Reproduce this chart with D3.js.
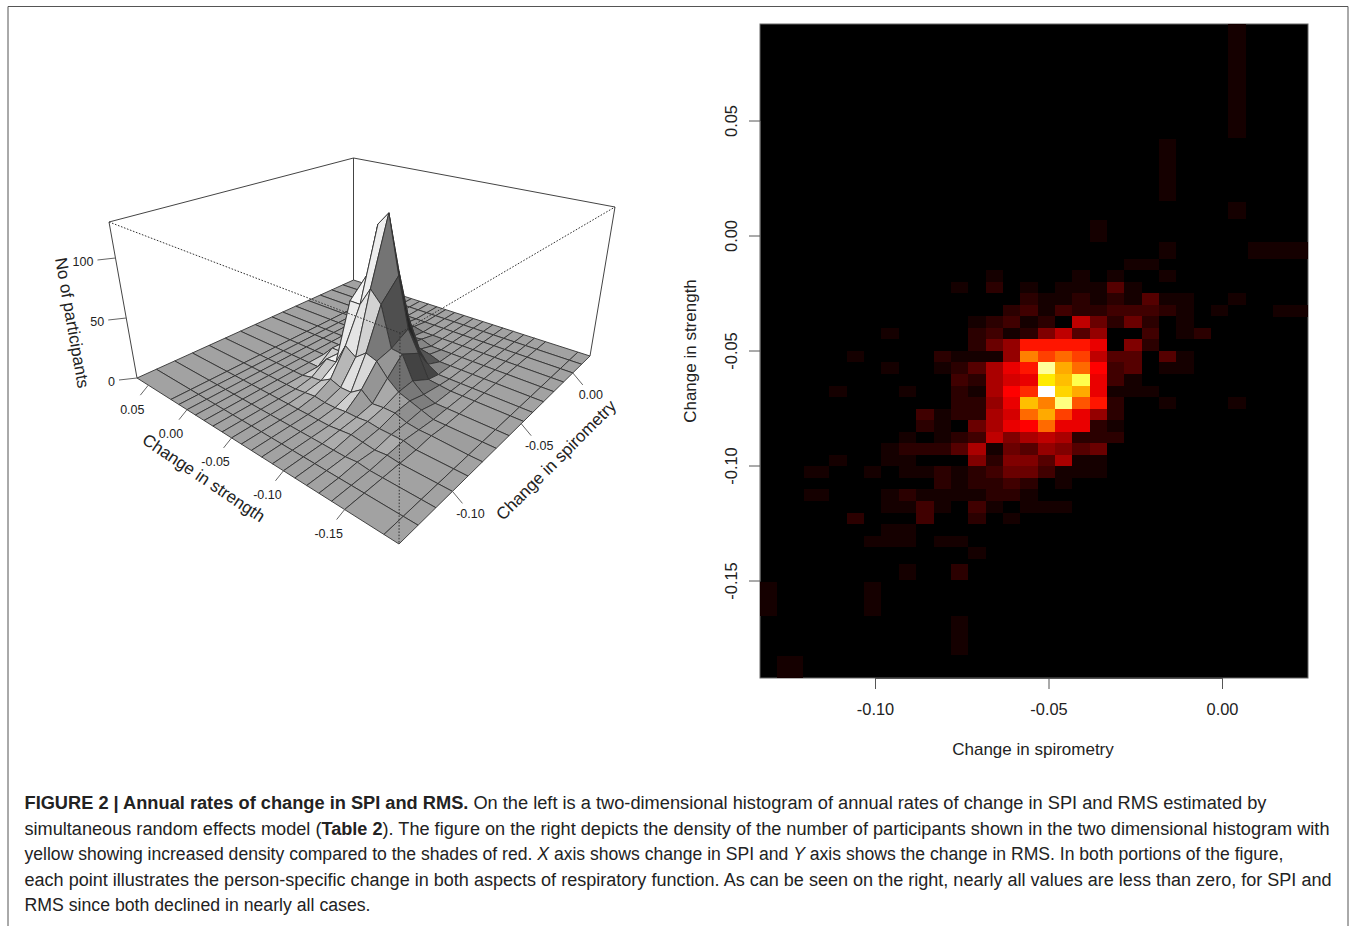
<!DOCTYPE html>
<html><head><meta charset="utf-8">
<script src="https://cdn.jsdelivr.net/npm/d3@7/dist/d3.min.js"></script>
<style>html,body{margin:0;background:#fff}svg{display:block}text{font-family:"Liberation Sans",Arial,sans-serif;fill:#222}</style>
</head><body><svg id="c" width="1356" height="926"></svg>
<script>
// ---------- heat map data (counts per 0.005 x 0.005 bin; rows run downward from heatTop)
const heatLeft=-0.13314, heatTop=-0.01, heatBinX=0.005, heatBinY=0.00502;
const heatCounts=[
[0,0,0,0,0,0,0,0,0,0,0,0,0,0,0,0,0,0,0,0,0,1,1],
[0,0,0,0,0,0,0,0,0,0,0,0,0,1,0,0,0,0,1,0,1,0,0,1],
[0,0,0,0,0,0,0,0,0,0,0,1,0,2,0,1,0,1,1,1,4,1],
[0,0,0,0,0,0,0,0,0,0,0,0,0,0,0,2,1,1,2,1,2,1,4,1,1,0,0,1],
[0,0,0,0,0,0,0,0,0,0,0,0,0,0,2,3,1,3,2,2,3,3,3,2,1,0,1],
[0,0,0,0,0,0,0,0,0,0,0,0,1,2,3,1,2,0,9,5,2,5,2,0,1],
[0,0,0,0,0,0,0,1,0,0,0,0,2,3,1,2,6,9,4,7,0,0,3,0,1,2],
[0,0,0,0,0,0,0,0,0,0,0,0,2,5,7,13,13,13,13,11,0,6,2],
[0,0,0,0,0,1,0,0,0,0,2,1,1,1,7,18,15,17,15,9,4,4,0,4,1],
[0,0,0,0,0,0,0,1,0,0,1,2,4,8,11,13,30,20,17,12,3,4,0,1,1],
[0,0,0,0,0,0,0,0,0,0,0,3,2,8,10,11,23,21,27,11,3,1],
[0,0,0,0,1,0,0,0,1,0,0,2,1,8,12,14,34,22,20,11,1,1,1],
[0,0,0,0,0,0,0,0,0,0,0,2,2,7,11,21,18,29,16,13,2,0,0,1,0,0,0,1],
[0,0,0,0,0,0,0,0,0,3,1,2,2,8,10,17,20,15,11,7,2],
[0,0,0,0,0,0,0,0,0,2,1,0,5,8,11,12,17,11,11,2,1],
[0,0,0,0,0,0,0,0,1,0,1,2,3,9,6,8,9,8,2,2,2],
[0,0,0,0,0,0,0,1,2,2,2,4,8,1,5,4,7,6,4,5],
[0,0,0,0,1,0,0,1,1,0,0,0,6,2,6,6,4,8,1,1],
[0,0,0,0,0,0,1,0,1,1,2,1,2,3,5,5,3,1,1,1],
[0,0,0,0,0,0,0,0,0,0,2,1,2,2,3,2,0,1],
[0,0,0,0,0,0,0,1,2,1,1,1,1,2,2,1],
[0,0,0,0,0,0,0,1,1,3,1,0,3,1,0,1,1,1],
[0,0,0,0,0,2,0,0,0,3,0,0,2,0,1],
[0,0,0,0,0,0,0,1,1],
[0,0,0,0,0,0,1,1,1,0,1,1],
[0,0,0,0,0,0,0,0,0,0,0,0,1]
];
// merged sparse bins: x0, x1, y0, y1, count (axis units)
const heatMerged=[
[0.00186,0.00686,0.09196,0.04252,1],
[-0.01814,-0.01314,0.04196,0.01513,1],
[0.00186,0.00686,0.0147,0.00717,1],
[-0.03814,-0.03314,0.00674,-0.0027,1],
[-0.01814,-0.01314,-0.00296,-0.01035,1],
[0.00758,0.02478,-0.00296,-0.01035,1],
[0.0147,0.02478,-0.03035,-0.03522,1],
[-0.12046,-0.11317,-0.10032,-0.10534,1],
[-0.12046,-0.11317,-0.11036,-0.11538,1],
[-0.09314,-0.08814,-0.14296,-0.14978,1],
[-0.07814,-0.07314,-0.14296,-0.14978,2],
[-0.13314,-0.12814,-0.15052,-0.16543,1],
[-0.10314,-0.09814,-0.15052,-0.16543,1],
[-0.07814,-0.07314,-0.16543,-0.18239,1],
[-0.12814,-0.12066,-0.1827,-0.19239,1]
];
const heatXTicks=[-0.10,-0.05,0.00], heatYTicks=[0.05,0.00,-0.05,-0.10,-0.15];
// ---------- 3D histogram data
const gridX=[-0.13,-0.12,-0.11,-0.10,-0.09,-0.08,-0.07,-0.06,-0.048,-0.04,-0.03,-0.02,-0.01,0,0.01,0.02];
const gridY=[0.066,0.02,0.01,0,-0.01,-0.02,-0.03,-0.04,-0.05,-0.06,-0.07,-0.08,-0.09,-0.10,-0.11,-0.12,-0.13,-0.14,-0.15,-0.178,-0.188];
const zCounts=[
[0,0,0,0,0,0,0,0,0,0,0,0,0,0,0,0],
[0,0,0,0,0,0,0,0,0,0,0,0,0,0,0,0],
[0,0,0,0,0,0,0,0,0,0,0,0,0,0,0,0],
[0,0,0,0,0,0,0,0,0,0,0,0,0,0,0,0],
[0,0,0,0,0,0,0,0,0,0,0,1,0,0,0,0],
[0,0,0,0,0,0,0,0,0,2,3,2,0,0,0,0],
[0,0,0,0,0,0,0,9,8,9,11,11,3,0,0,0],
[0,0,0,0,0,2,10,9,21,31,9,6,2,0,0,0],
[0,0,0,0,1,3,11,56,72,60,18,8,2,0,0,0],
[0,0,0,0,2,8,28,56,118,84,14,2,0,0,0,0],
[0,0,0,0,1,5,22,72,130,75,5,3,0,0,0,0],
[0,0,0,0,1,5,29,62,79,39,4,0,0,0,0,0],
[0,0,0,0,2,11,26,29,37,16,3,0,0,0,0,0],
[0,0,0,1,2,4,16,28,20,5,0,0,0,0,0,0],
[0,0,0,2,3,5,9,10,2,0,0,0,0,0,0,0],
[0,0,0,1,2,5,6,3,1,0,0,0,0,0,0,0],
[0,0,1,0,2,2,3,0,0,0,0,0,0,0,0,0],
[0,0,0,1,2,1,0,0,0,0,0,0,0,0,0,0],
[0,0,0,0,0,1,0,0,0,0,0,0,0,0,0,0],
[0,0,0,0,0,0,0,0,0,0,0,0,0,0,0,0],
[0,0,0,0,0,0,0,0,0,0,0,0,0,0,0,0]
];
const zMax=130;
const perspXTicks=[-0.10,-0.05,0.00], perspYTicks=[0.05,0.00,-0.05,-0.10,-0.15], perspZTicks=[0,50,100];
const caption=[
 [["b","FIGURE 2 | Annual rates of change in SPI and RMS."],["n"," On the left is a two-dimensional histogram of annual rates of change in SPI and RMS estimated by"]],
 [["n","simultaneous random effects model ("],["b","Table 2"],["n","). The figure on the right depicts the density of the number of participants shown in the two dimensional histogram with"]],
 [["n","yellow showing increased density compared to the shades of red. "],["i","X"],["n"," axis shows change in SPI and "],["i","Y"],["n"," axis shows the change in RMS. In both portions of the figure,"]],
 [["n","each point illustrates the person-specific change in both aspects of respiratory function. As can be seen on the right, nearly all values are less than zero, for SPI and"]],
 [["n","RMS since both declined in nearly all cases."]]
];
const captionWidths=[1242,1305,1259,1307,346];

const svg=d3.select("#c");
const fmt=d3.format(".2f");
const minus=v=>fmt(v).replace("−","-");
// frame
svg.append("path").attr("d","M8,926V6.5H1348V926").attr("fill","none").attr("stroke","#555").attr("stroke-width",1);

// ---------- heat map
const hx=d3.scaleLinear([-0.10,0],[875,1222]);
const hy=d3.scaleLinear([0.05,-0.15],[120.5,580.5]);
const plotL=760,plotR=1308,plotT=24,plotB=678;
const heatColor=d3.scaleLinear([0,12,24,34],["#000","#f00","#ff0","#fff"]).clamp(true);
svg.append("rect").attr("x",plotL).attr("y",plotT).attr("width",plotR-plotL).attr("height",plotB-plotT).attr("fill","#000").attr("stroke","#666").attr("stroke-width",1);
const cells=[];
heatCounts.forEach((row,r)=>row.forEach((v,c)=>{if(v>0)cells.push({x0:heatLeft+c*heatBinX,x1:heatLeft+(c+1)*heatBinX,y0:heatTop-r*heatBinY,y1:heatTop-(r+1)*heatBinY,v});}));
heatMerged.forEach(d=>cells.push({x0:d[0],x1:d[1],y0:d[2],y1:d[3],v:d[4]}));
svg.append("g").selectAll("rect").data(cells).join("rect")
 .attr("x",d=>hx(d.x0)).attr("y",d=>hy(d.y0)).attr("width",d=>hx(d.x1)-hx(d.x0)).attr("height",d=>hy(d.y1)-hy(d.y0))
 .attr("fill",d=>heatColor(d.v)).attr("shape-rendering","crispEdges");
const axB=svg.append("g").attr("transform",`translate(0,${plotB})`).call(d3.axisBottom(hx).tickValues(heatXTicks).tickSize(11).tickSizeOuter(0).tickPadding(14).tickFormat(minus));
const axL=svg.append("g").attr("transform",`translate(${plotL},0)`).call(d3.axisLeft(hy).tickValues(heatYTicks).tickSize(11).tickSizeOuter(0).tickFormat(minus));
[axB,axL].forEach(a=>{a.selectAll("line,path").attr("stroke","#555");a.selectAll("text").attr("font-size",16.4).attr("fill","#222").attr("font-family","Liberation Sans");});
axL.selectAll("text").attr("text-anchor","middle").attr("dy",0).attr("x",-23).attr("y",0).attr("transform","rotate(-90,-23,0)");
svg.append("text").attr("x",1033).attr("y",755).attr("text-anchor","middle").attr("font-size",17).text("Change in spirometry");
svg.append("text").attr("transform","translate(696,351) rotate(-90)").attr("text-anchor","middle").attr("font-size",17).text("Change in strength");

// ---------- 3D histogram
const xDom=[gridX[0],gridX[gridX.length-1]], yDom=[gridY[gridY.length-1],gridY[0]];
function homog(p0,p1,p2,p3){ // unit square (0,0),(1,0),(1,1),(0,1)
 const dx1=p1[0]-p2[0],dx2=p3[0]-p2[0],sx=p0[0]-p1[0]+p2[0]-p3[0];
 const dy1=p1[1]-p2[1],dy2=p3[1]-p2[1],sy=p0[1]-p1[1]+p2[1]-p3[1];
 const det=dx1*dy2-dx2*dy1;
 const g=(sx*dy2-dx2*sy)/det,h=(dx1*sy-sx*dy1)/det;
 const a=p1[0]-p0[0]+g*p1[0],b=p3[0]-p0[0]+h*p3[0],c=p0[0];
 const d=p1[1]-p0[1]+g*p1[1],e=p3[1]-p0[1]+h*p3[1],f=p0[1];
 return (u,v)=>{const w=g*u+h*v+1;return [(a*u+b*v+c)/w,(d*u+e*v+f)/w];};
}
const floorH=homog([399,544],[590,356],[353.5,280],[137,378]);
const topH=homog([400,333],[615,207],[353.5,158],[109,222]);
const us=d3.scaleLinear(xDom,[0,1]), vs=d3.scaleLinear(yDom,[0,1]), zs=d3.scaleLinear([0,zMax],[0,1]);
function proj(x,y,z){const F=floorH(us(x),vs(y)),T=topH(us(x),vs(y)),w=zs(z);return [F[0]+(T[0]-F[0])*w,F[1]+(T[1]-F[1])*w];}
const line=d3.line();
const box=svg.append("g").attr("fill","none").attr("stroke","#444").attr("stroke-width",1);
const [xa,xb]=xDom,[ya,yb]=yDom;
box.append("path").attr("d",line([proj(xa,yb,0),proj(xa,yb,zMax),proj(xb,yb,zMax),proj(xb,ya,zMax),proj(xb,ya,0)]));
box.append("path").attr("d",line([proj(xb,yb,0),proj(xb,yb,zMax)]));
// facets back to front; low side light from screen-left
const light=[-0.68,0.68,0.26], relief=0.5;
const grayOf=dot=>0.53+0.45*dot;
const facets=[];
for(let j=0;j<gridY.length-1;j++)for(let i=gridX.length-2;i>=0;i--){
 const z00=zCounts[j][i],z10=zCounts[j][i+1],z01=zCounts[j+1][i],z11=zCounts[j+1][i+1];
 const du=us(gridX[i+1])-us(gridX[i]),dv=vs(gridY[j])-vs(gridY[j+1]);
 const dzx=relief*zs((z10+z11-z00-z01)/2)/du, dzy=relief*zs((z00+z10-z01-z11)/2)/dv;
 const n=[-dzx,-dzy,1],len=Math.hypot(...n);
 const dot=(n[0]*light[0]+n[1]*light[1]+n[2]*light[2])/len;
 const g=grayOf(dot);
 const pts=[proj(gridX[i],gridY[j],z00),proj(gridX[i+1],gridY[j],z10),proj(gridX[i+1],gridY[j+1],z11),proj(gridX[i],gridY[j+1],z01)];
 facets.push({pts,g});
}
svg.append("g").selectAll("path").data(facets).join("path")
 .attr("d",d=>line(d.pts)+"Z").attr("fill",d=>{const c=Math.round(Math.max(0.12,Math.min(1,d.g))*250);return `rgb(${c},${c},${c})`;})
 .attr("stroke","#333").attr("stroke-width",0.9).attr("stroke-linejoin","round");
const dots=svg.append("g").attr("fill","none").attr("stroke","#333").attr("stroke-width",1).attr("stroke-dasharray","1.6,1.6");
dots.append("path").attr("d",line([proj(xa,yb,zMax),proj(xa,ya,zMax),proj(xb,ya,zMax)]));
dots.append("path").attr("d",line([proj(xa,ya,zMax),proj(xa,ya,0)]));
// axis ticks
const tk=svg.append("g");
function tick(p,dx,dy,lx,ly,label,anchor){
 tk.append("line").attr("x1",p[0]).attr("y1",p[1]).attr("x2",p[0]+dx).attr("y2",p[1]+dy).attr("stroke","#666");
 tk.append("text").attr("x",p[0]+lx).attr("y",p[1]+ly+4.5).attr("text-anchor",anchor).attr("font-size",12.5).text(label);
}
perspYTicks.forEach(v=>tick(proj(xa,v,0),-8,10,-16,24,minus(v),"middle"));
perspXTicks.forEach(v=>tick(proj(v,ya,0),10,12,18,22,minus(v),"middle"));
perspZTicks.forEach(v=>tick(proj(xa,yb,v),-18,2,-22,3,String(v),"end"));
svg.append("text").attr("transform","translate(203,479) rotate(34)").attr("text-anchor","middle").attr("dominant-baseline","middle").attr("font-size",17).text("Change in strength");
svg.append("text").attr("transform","translate(557,461) rotate(-45)").attr("text-anchor","middle").attr("dominant-baseline","middle").attr("font-size",17).text("Change in spirometry");
svg.append("text").attr("transform","translate(71,323) rotate(80)").attr("text-anchor","middle").attr("dominant-baseline","middle").attr("font-size",17).text("No of participants");

// ---------- caption
const cap=svg.append("g");
caption.forEach((ln,k)=>{
 const t=cap.append("text").attr("x",24.5).attr("y",809+k*25.5).attr("font-size",17.6).attr("textLength",captionWidths[k]).attr("lengthAdjust","spacingAndGlyphs");
 ln.forEach(([s,str])=>{const sp=t.append("tspan").text(str);if(s==="b")sp.attr("font-weight","bold");if(s==="i")sp.attr("font-style","italic");});
});
</script></body></html>
